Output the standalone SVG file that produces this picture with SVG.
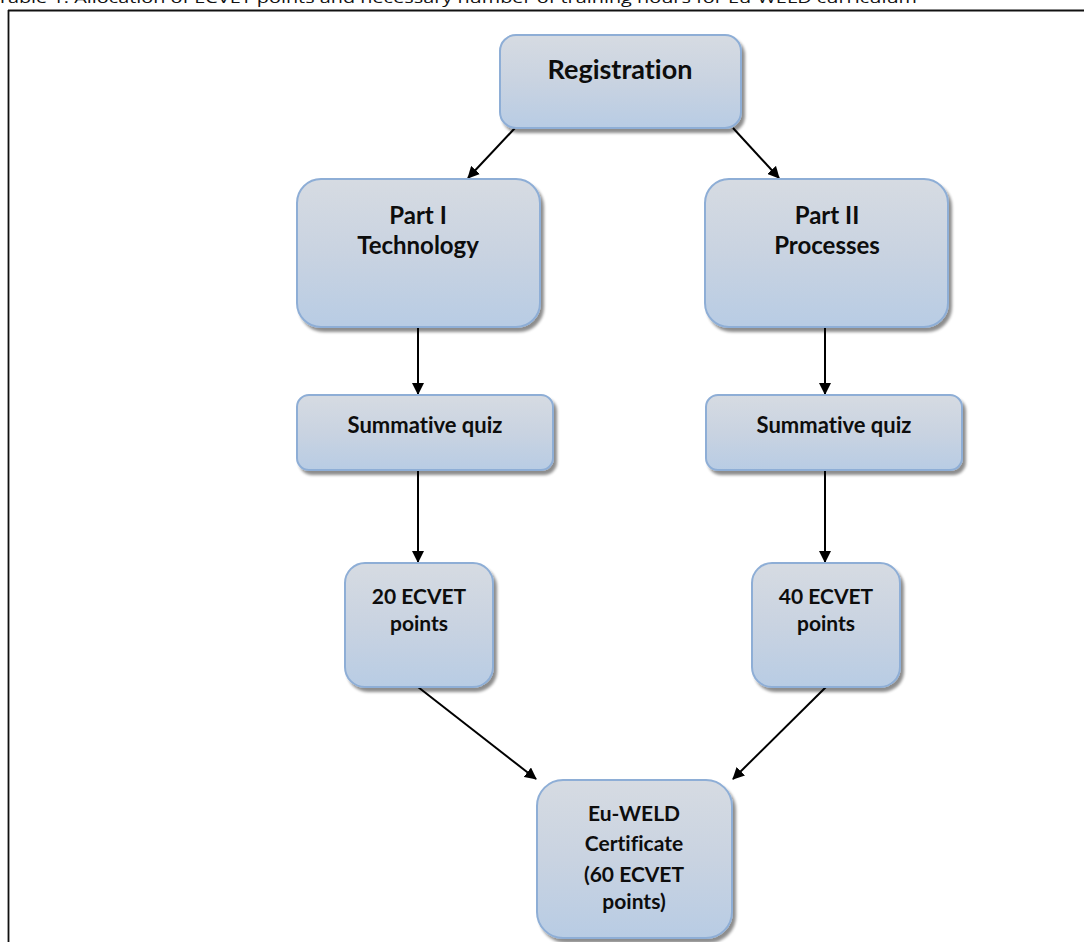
<svg xmlns="http://www.w3.org/2000/svg" width="1084" height="942" viewBox="0 0 1084 942">
<defs>
<linearGradient id="g" x1="0" y1="0" x2="0" y2="1">
<stop offset="0" stop-color="#d6dbe2"/>
<stop offset="0.5" stop-color="#c9d3e1"/>
<stop offset="1" stop-color="#b8cce4"/>
</linearGradient>
<filter id="sh" x="-10%" y="-10%" width="130%" height="130%">
<feGaussianBlur in="SourceAlpha" stdDeviation="1.5"/>
<feOffset dx="3" dy="4" result="b"/>
<feComponentTransfer><feFuncA type="linear" slope="0.45"/></feComponentTransfer>
<feMerge><feMergeNode/><feMergeNode in="SourceGraphic"/></feMerge>
</filter>
<marker id="ah" markerWidth="12" markerHeight="12" refX="11" refY="6" orient="auto" markerUnits="userSpaceOnUse" viewBox="0 0 12 12">
<path d="M0,0 L12,6 L0,12 z" fill="#000"/>
</marker>
<style>
.box{fill:url(#g);stroke:#8eaed6;stroke-width:2;filter:url(#sh)}
.t{font-family:Lato,"Open Sans","Liberation Sans",sans-serif;font-weight:bold;fill:#0d0d0d;text-anchor:middle;font-variant-ligatures:none}
.c{stroke:#000;stroke-width:2;fill:none;marker-end:url(#ah)}
</style>
</defs>
<rect width="1084" height="942" fill="#fff"/>
<text x="-3" y="3" font-family="'Open Sans','Liberation Sans',sans-serif" font-size="15" textLength="920" lengthAdjust="spacingAndGlyphs" fill="#111">Table 1: Allocation of ECVET points and necessary number of training hours for Eu-WELD curriculum</text>
<g id="frame" stroke="#111" fill="none">
<line x1="8" y1="10.5" x2="1084" y2="10.5" stroke-width="2.2"/>
<line x1="8.5" y1="10" x2="8.5" y2="942" stroke-width="1.8"/>
</g>
<g id="connectors">
<line class="c" x1="515" y1="128" x2="468" y2="178"/>
<line class="c" x1="733" y1="128" x2="779" y2="178"/>
<line class="c" x1="418" y1="327" x2="418" y2="394"/>
<line class="c" x1="825" y1="327" x2="825" y2="394"/>
<line class="c" x1="418" y1="470" x2="418" y2="562"/>
<line class="c" x1="825" y1="470" x2="825" y2="562"/>
<line class="c" x1="418" y1="687" x2="536" y2="779"/>
<line class="c" x1="826" y1="687" x2="733" y2="779"/>
</g>
<g id="registration">
<rect class="box" x="500" y="35" width="241" height="93" rx="16"/>
<text class="t" x="620" y="79" font-size="27">Registration</text>
</g>
<g id="part1">
<rect class="box" x="297" y="179" width="243" height="148" rx="24"/>
<text class="t" x="418" y="224" font-size="24">Part I</text>
<text class="t" x="418" y="254" font-size="24">Technology</text>
</g>
<g id="part2">
<rect class="box" x="705" y="179" width="243" height="148" rx="24"/>
<text class="t" x="827" y="224" font-size="24">Part II</text>
<text class="t" x="827" y="254" font-size="24">Processes</text>
</g>
<g id="quiz1">
<rect class="box" x="297" y="395" width="256" height="75" rx="12"/>
<text class="t" x="425" y="433" font-size="22">Summative quiz</text>
</g>
<g id="quiz2">
<rect class="box" x="706" y="395" width="256" height="75" rx="12"/>
<text class="t" x="834" y="433" font-size="22">Summative quiz</text>
</g>
<g id="ecvet20">
<rect class="box" x="345" y="563" width="148" height="124" rx="20"/>
<text class="t" x="419" y="604" font-size="21">20 ECVET</text>
<text class="t" x="419" y="631" font-size="21">points</text>
</g>
<g id="ecvet40">
<rect class="box" x="752" y="563" width="148" height="124" rx="20"/>
<text class="t" x="826" y="604" font-size="21">40 ECVET</text>
<text class="t" x="826" y="631" font-size="21">points</text>
</g>
<g id="certificate">
<rect class="box" x="537" y="780" width="195" height="158" rx="26"/>
<text class="t" x="634" y="821" font-size="21">Eu-WELD</text>
<text class="t" x="634" y="851" font-size="21">Certificate</text>
<text class="t" x="634" y="882" font-size="21">(60 ECVET</text>
<text class="t" x="634" y="909" font-size="21">points)</text>
</g>
</svg>
